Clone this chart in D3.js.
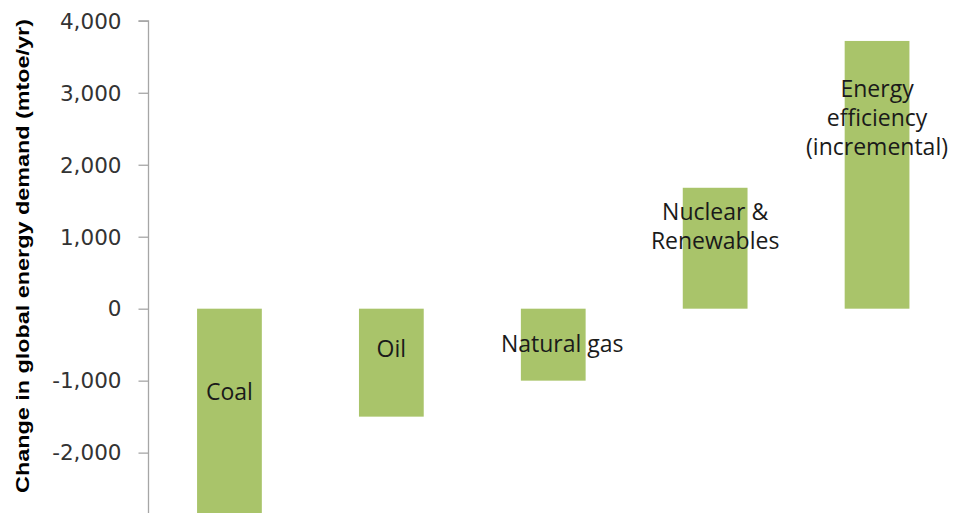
<!DOCTYPE html>
<html>
<head>
<meta charset="utf-8">
<script src="https://cdn.jsdelivr.net/npm/d3@7/dist/d3.min.js"></script>
<style>
  html, body { margin: 0; padding: 0; background: #fff; overflow: hidden; }
  svg { display: block; }
</style>
</head>
<body>
<svg id="chart" width="956" height="513"></svg>
<script>
// ---- data ----
const categories = ["Coal", "Oil", "Natural gas", "Nuclear & Renewables", "Energy efficiency (incremental)"];
const labelLines = [["Coal"], ["Oil"], ["Natural gas"], ["Nuclear &", "Renewables"], ["Energy", "efficiency", "(incremental)"]];
const values = [-3000, -1500, -1000, 1680, 3720];
// label baseline anchors, in data units (mtoe/yr)
const labelAt = [-1275, -665, -605, 1230, 2940];
const yTicks = [-2000, -1000, 0, 1000, 2000, 3000, 4000];
const yTitle = "Change in global energy demand (mtoe/yr)";

// ---- layout ----
const W = 956, H = 513;
const axisX = 148.5;
const svg = d3.select("#chart");

const y = d3.scaleLinear().domain([-3000, 4000]).range([524.6, 20.8]);
const x = d3.scaleBand().domain(categories).range([axisX, 958]).paddingInner(0.6).paddingOuter(0.3);

// bars
svg.append("g").selectAll("rect")
  .data(categories)
  .join("rect")
  .attr("x", d => x(d))
  .attr("width", x.bandwidth())
  .attr("y", (d, i) => y(Math.max(0, values[i])))
  .attr("height", (d, i) => Math.abs(y(values[i]) - y(0)))
  .attr("fill", "#A9C46A");

// y axis
const fmt = d3.format(",");
const yAxis = d3.axisLeft(y).tickValues(yTicks).tickSize(10).tickPadding(17)
  .tickFormat(d => fmt(d).replace("\u2212", "-"));
const gy = svg.append("g").attr("transform", `translate(${axisX},0)`).call(yAxis);
gy.select(".domain").attr("stroke", "#A6A6A6").attr("stroke-width", 1.3)
  .attr("d", `M-10,${y(4000)}H0V${H + 20}`);
gy.selectAll(".tick line").attr("stroke", "#A6A6A6").attr("stroke-width", 1.3);
gy.selectAll(".tick text")
  .attr("font-family", "DejaVu Sans, Verdana, sans-serif")
  .attr("font-size", 21.5)
  .attr("fill", "#333333")
  .attr("dy", "0.34em");

// y title
svg.append("text")
  .attr("transform", `translate(29,${256}) rotate(-90)`)
  .attr("text-anchor", "middle")
  .attr("font-family", "Liberation Sans, Arial, sans-serif")
  .attr("font-weight", "bold")
  .attr("font-size", 19)
  .attr("textLength", 474)
  .attr("lengthAdjust", "spacingAndGlyphs")
  .attr("fill", "#000")
  .text(yTitle);

// category labels
const lbl = svg.append("g").selectAll("text")
  .data(categories)
  .join("text")
  .attr("text-anchor", "middle")
  .attr("font-family", "Open Sans, sans-serif")
  .attr("font-size", 23)
  .attr("fill", "#1a1a1a")
  .attr("y", (d, i) => y(labelAt[i]));
lbl.each(function(d, i) {
  const t = d3.select(this);
  const cx = x(d) + x.bandwidth() / 2 + (i === 2 ? 9 : 0);
  labelLines[i].forEach((line, k) => {
    t.append("tspan").attr("x", cx).attr("dy", k === 0 ? 0 : 29).text(line);
  });
});
</script>
</body>
</html>
